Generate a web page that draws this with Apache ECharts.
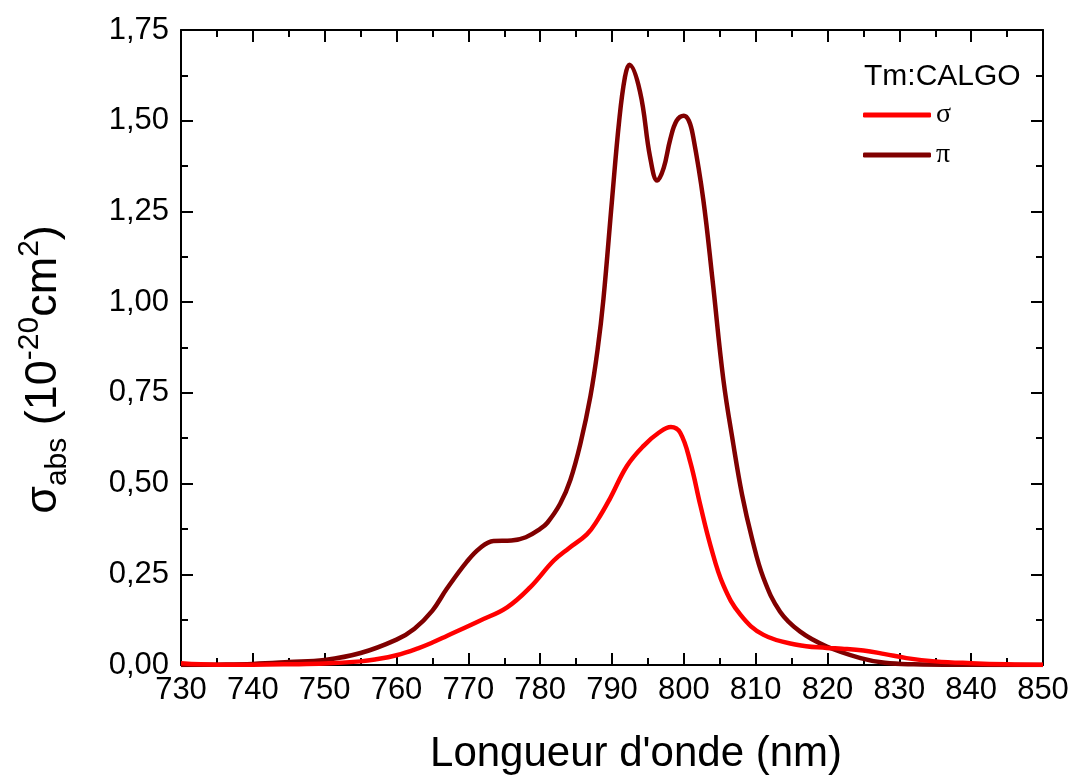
<!DOCTYPE html>
<html>
<head>
<meta charset="utf-8">
<script src="https://cdn.jsdelivr.net/npm/echarts@6/dist/echarts.min.js"></script>
<style>html,body{margin:0;padding:0;background:#fff}#c{width:1075px;height:780px}</style>
</head>
<body>
<div id="c"></div>
<script>
var piX = [730, 735, 740, 745, 750, 755, 760, 762.5, 765, 767, 769.8, 771.6, 773.5, 776, 778, 780, 781, 782.8, 784.2, 785.6, 787, 788, 788.8, 790, 791, 791.8, 792.4, 793.9, 795.3, 796.3, 797.2, 798.1, 799, 800, 800.7, 801.3, 802.7, 804, 805.5, 806.9, 808.1, 809.5, 811.1, 813.4, 816.2, 819.9, 824.6, 828, 832, 840, 850];
var piY = [0.000, 0.001, 0.003, 0.008, 0.014, 0.033, 0.07, 0.10, 0.15, 0.21, 0.285, 0.322, 0.342, 0.343, 0.352, 0.375, 0.392, 0.445, 0.51, 0.61, 0.741, 0.87, 1.007, 1.281, 1.50, 1.62, 1.654, 1.58, 1.40, 1.335, 1.37, 1.448, 1.50, 1.514, 1.50, 1.456, 1.284, 1.06, 0.787, 0.607, 0.47, 0.348, 0.239, 0.147, 0.092, 0.051, 0.019, 0.006, 0.002, 0.0005, 0.000];
var sigmaX = [730, 735, 740, 745, 750, 755, 757, 760, 763, 765, 767, 771.6, 775.4, 778.6, 781.9, 784, 786.5, 788, 789.7, 792.1, 794.4, 796.5, 798.2, 799.5, 800.9, 802.3, 803.7, 805.5, 807.9, 811.1, 815.7, 819.9, 822, 825, 828, 831, 835, 840, 845, 850];
var sigmaY = [0.005, 0.001, 0.001, 0.002, 0.004, 0.01, 0.015, 0.027, 0.046, 0.062, 0.08, 0.122, 0.159, 0.214, 0.288, 0.322, 0.36, 0.40, 0.458, 0.549, 0.604, 0.64, 0.656, 0.64, 0.559, 0.44, 0.33, 0.22, 0.138, 0.083, 0.056, 0.047, 0.045, 0.04, 0.03, 0.019, 0.01, 0.005, 0.002, 0.001];
var seriesNames = ['σ', 'π'];
var legendTitle = 'Tm:CALGO';
var xTitle = "Longueur d'onde (nm)";

function pairs(xs, ys) { return xs.map(function (x, i) { return [x, ys[i]]; }); }

var chart = echarts.init(document.getElementById('c'), null, { renderer: 'canvas' });
var FONT = 'Liberation Sans, Arial, sans-serif';
var axisCommon = {
  axisLine: { show: true, onZero: false, lineStyle: { color: '#000', width: 2 } },
  axisTick: { show: true, inside: true, length: 12, lineStyle: { color: '#000', width: 2 } },
  minorTick: { show: true, splitNumber: 2, length: 7, lineStyle: { color: '#000', width: 2 } },
  splitLine: { show: false }
};
chart.setOption({
  animation: false,
  backgroundColor: '#fff',
  grid: { left: 181, right: 32, top: 30, bottom: 113 },
  title: {
    text: legendTitle, left: 859, top: 57,
    textStyle: { fontFamily: FONT, fontSize: 30, fontWeight: 'normal', color: '#000' }
  },
  legend: {
    data: seriesNames, orient: 'vertical', left: 858, top: 96,
    icon: 'roundRect', itemWidth: 68, itemHeight: 5, itemGap: 12,
    textStyle: { fontFamily: 'Liberation Serif, Times New Roman, serif', fontSize: 28, color: '#000' }
  },
  xAxis: [
    Object.assign({}, axisCommon, {
      type: 'value', min: 730, max: 850, interval: 10, position: 'bottom',
      axisLabel: { fontFamily: FONT, fontSize: 31, color: '#000', margin: 10 },
      name: xTitle, nameLocation: 'middle', nameGap: 68,
      nameTextStyle: { fontFamily: FONT, fontSize: 42, color: '#000', padding: [0, 0, 0, 48] }
    }),
    Object.assign({}, axisCommon, {
      type: 'value', min: 730, max: 850, interval: 10, position: 'top',
      axisLabel: { show: false }
    })
  ],
  yAxis: [
    Object.assign({}, axisCommon, {
      type: 'value', min: 0, max: 1.75, interval: 0.25, position: 'left',
      axisLabel: {
        fontFamily: FONT, fontSize: 31, color: '#000', margin: 12,
        formatter: function (v) { return v.toFixed(2).replace('.', ','); }
      },
      name: '{s|σ}{sub|abs}{s| (10}{sup|-20}{s|cm}{sup|2}{s|)}',
      nameLocation: 'middle', nameGap: 108, nameRotate: 90,
      nameTextStyle: {
        color: '#000', padding: [0, 44, 0, 0],
        rich: {
          s: { fontFamily: FONT, fontSize: 45, color: '#000', lineHeight: 58, verticalAlign: 'middle' },
          sub: { fontFamily: FONT, fontSize: 30, color: '#000', lineHeight: 28, verticalAlign: 'bottom' },
          sup: { fontFamily: FONT, fontSize: 30, color: '#000', lineHeight: 28, verticalAlign: 'top' }
        }
      }
    }),
    Object.assign({}, axisCommon, {
      type: 'value', min: 0, max: 1.75, interval: 0.25, position: 'right',
      axisLabel: { show: false }
    })
  ],
  series: [
    {
      name: seriesNames[0], type: 'line', data: pairs(sigmaX, sigmaY),
      smooth: 0.4, showSymbol: false,
      lineStyle: { color: '#ff0000', width: 4.5 }, itemStyle: { color: '#ff0000' }, z: 3
    },
    {
      name: seriesNames[1], type: 'line', data: pairs(piX, piY),
      smooth: 0.4, showSymbol: false,
      lineStyle: { color: '#800000', width: 4.5 }, itemStyle: { color: '#800000' }, z: 2
    }
  ]
});
</script>
</body>
</html>
